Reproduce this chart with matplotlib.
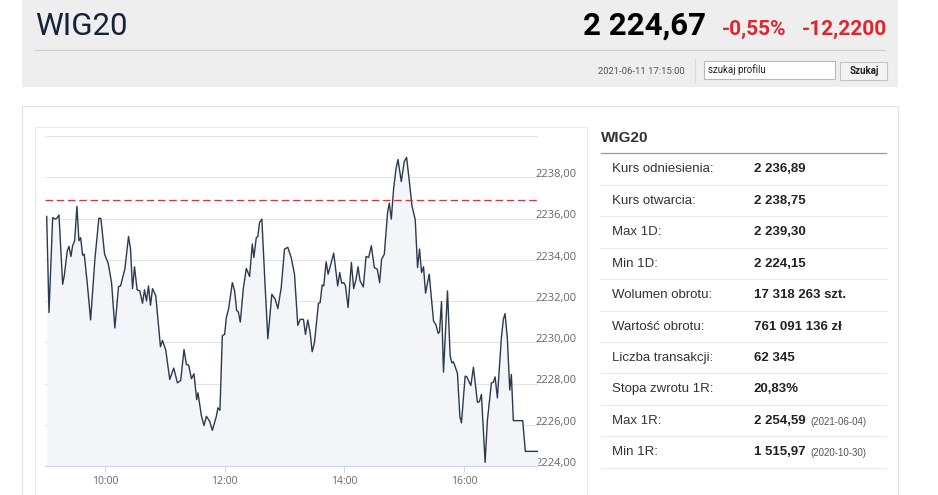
import matplotlib
matplotlib.use("Agg")
import matplotlib.pyplot as plt
from matplotlib.patches import Rectangle
from matplotlib.transforms import ScaledTranslation

# WIG20 intraday, minutes after 09:00
minutes = [1.7, 4.0, 7.7, 10.0, 11.7, 14.0, 17.7, 19.3, 22.3, 24.0, 26.0, 27.7, 29.7, 32.0,
           34.0, 35.7, 37.7, 39.3, 42.3, 45.7, 50.0, 54.0, 56.0, 59.7, 63.3, 66.7, 70.0,
           73.7, 75.7, 80.0, 83.7, 85.7, 87.7, 89.7, 92.3, 95.0, 97.7, 99.7, 101.7, 103.7,
           105.7, 107.7, 111.0, 115.7, 117.7, 121.0, 125.0, 129.0, 132.7, 136.0, 139.3,
           141.7, 144.0, 146.7, 149.3, 152.0, 153.3, 156.7, 159.3, 161.7, 165.0, 167.7,
           171.7, 173.3, 175.3, 177.7, 180.0, 181.7, 184.0, 187.7, 190.0, 192.0, 193.7,
           195.7, 198.7, 201.7, 205.0, 207.7, 209.3, 211.7, 213.3, 215.0, 217.3, 220.3,
           223.3, 227.3, 230.7, 233.3, 236.7, 240.0, 243.3, 246.7, 250.0, 253.3, 255.7,
           259.0, 261.0, 263.3, 265.7, 267.7, 270.0, 274.0, 275.7, 277.7, 279.3, 281.7,
           283.7, 285.7, 289.3, 293.3, 295.3, 297.3, 299.3, 301.0, 303.7, 307.0, 309.3,
           311.7, 313.7, 315.7, 319.0, 321.7, 324.3, 327.0, 330.0, 333.0, 335.3, 337.3,
           340.0, 343.3, 345.0, 347.0, 349.3, 351.7, 353.7, 357.0, 360.0, 362.3, 365.0,
           367.7, 371.0, 373.3, 375.3, 377.3, 379.3, 381.3, 385.0, 389.3, 391.7, 394.0,
           395.3, 397.3, 399.3, 403.3, 406.0, 407.7, 409.3, 413.3, 415.7, 417.3, 421.0,
           422.7, 426.7, 429.3, 433.3, 435.3, 437.3, 441.0, 443.3, 447.3, 449.3, 451.0,
           453.3, 457.3, 459.3, 461.0, 463.3, 465.7, 467.3, 469.3, 478.7, 481.3, 494.0]
wig20 = [2236.10, 2231.44, 2236.05, 2235.97, 2236.00, 2236.17, 2232.81, 2233.22, 2234.43,
         2234.65, 2234.16, 2234.68, 2234.92, 2236.59, 2234.92, 2235.07, 2234.22, 2234.27,
         2232.89, 2231.08, 2234.03, 2236.02, 2236.00, 2234.27, 2233.83, 2232.89, 2230.69,
         2232.70, 2232.73, 2233.54, 2235.13, 2234.52, 2232.60, 2233.66, 2232.54, 2232.49,
         2231.89, 2232.54, 2232.00, 2232.73, 2231.79, 2232.60, 2232.25, 2229.78, 2230.09,
         2229.62, 2228.20, 2228.75, 2228.03, 2228.15, 2229.65, 2228.92, 2228.89, 2228.23,
         2228.47, 2227.22, 2227.55, 2226.44, 2225.96, 2226.41, 2226.17, 2225.73, 2226.41,
         2226.82, 2226.70, 2230.33, 2230.38, 2231.19, 2231.63, 2232.89, 2232.49, 2231.55,
         2231.47, 2230.98, 2232.60, 2233.58, 2233.19, 2234.76, 2234.11, 2235.07, 2235.13,
         2235.81, 2235.97, 2232.98, 2230.17, 2232.33, 2232.08, 2231.63, 2232.65, 2234.52,
         2234.60, 2234.11, 2233.30, 2230.82, 2231.11, 2231.11, 2230.38, 2231.08, 2230.46,
         2229.54, 2229.98, 2231.89, 2231.92, 2232.78, 2232.73, 2233.90, 2233.30, 2233.67,
         2234.32, 2232.73, 2233.38, 2232.86, 2232.89, 2232.76, 2231.68, 2233.87, 2232.60,
         2233.06, 2233.66, 2232.98, 2232.68, 2234.16, 2234.11, 2234.68, 2233.62, 2233.54,
         2232.89, 2234.03, 2234.27, 2236.30, 2236.74, 2235.97, 2237.43, 2238.41, 2238.86,
         2237.79, 2238.76, 2238.97, 2237.84, 2236.62, 2235.94, 2233.62, 2234.52, 2233.38,
         2233.66, 2232.38, 2233.30, 2231.03, 2230.85, 2230.43, 2230.50, 2231.97, 2228.55,
         2232.49, 2229.33, 2229.00, 2229.05, 2228.49, 2226.41, 2226.09, 2228.36, 2228.32,
         2227.90, 2228.79, 2227.09, 2227.12, 2227.47, 2224.18, 2226.22, 2228.03, 2228.06,
         2228.32, 2227.30, 2230.22, 2231.11, 2231.39, 2230.17, 2227.68, 2228.44, 2226.20,
         2226.20, 2224.71, 2224.71]
ref_price = 2236.89

hour_ticks = [60, 180, 300, 420]
hour_labels = ["10:00", "12:00", "14:00", "16:00"]
price_ticks = [2224, 2226, 2228, 2230, 2232, 2234, 2236, 2238, 2240]
price_labels = ["2224,00", "2226,00", "2228,00", "2230,00", "2232,00", "2234,00",
                "2236,00", "2238,00", ""]

index_name = "WIG20"
last_price = "2 224,67"
change_pct = "-0,55%"
change_abs = "-12,2200"
timestamp = "2021-06-11 17:15:00"

stat_labels = ["Kurs odniesienia:", "Kurs otwarcia:", "Max 1D:", "Min 1D:",
               "Wolumen obrotu:", "Wartość obrotu:", "Liczba transakcji:",
               "Stopa zwrotu 1R:", "Max 1R:", "Min 1R:"]
stat_values = ["2 236,89", "2 238,75", "2 239,30", "2 224,15", "17 318 263 szt.",
               "761 091 136 zł", "62 345", "20,83%", "2 254,59", "1 515,97"]
stat_dates = ["", "", "", "", "", "", "", "", "(2021-06-04)", "(2020-10-30)"]

W, H = 938, 495
fig = plt.figure(figsize=(W / 100, H / 100), dpi=100)
fig.patch.set_facecolor("white")

# page layer in pixel coordinates
bg = fig.add_axes([0, 0, 1, 1])
bg.set_xlim(0, W)
bg.set_ylim(H, 0)
bg.axis("off")

narrow = ["Roboto", "DejaVu Sans"]
arial = ["Liberation Sans", "DejaVu Sans"]
bg.add_patch(Rectangle((22, -2), 876, 89, facecolor="#eeeeee", edgecolor="none"))
bg.plot([35, 885], [50, 50], color="#cfcfcf", lw=0.8)
bg.text(35, 35, index_name, fontsize=22.5, color="#15223b", family=narrow, va="baseline")
bg.text(706, 35, last_price, fontsize=22.5, fontweight="bold", color="black",
        family=narrow, ha="right", va="baseline")
bg.text(722, 35, change_pct, fontsize=15, fontweight="bold", color="#dd2630",
        family=narrow, va="baseline")
bg.text(887, 35, change_abs, fontsize=15, fontweight="bold", color="#dd2630",
        family=narrow, ha="right", va="baseline")
bg.text(685, 71, timestamp, fontsize=6.8, color="#555555", family=narrow,
        ha="right", va="center")
bg.plot([695, 695], [59, 82], color="#d8d8d8", lw=0.8)
bg.add_patch(Rectangle((704, 61), 131, 18, facecolor="white", edgecolor="#b8b8b8", lw=0.8))
bg.text(708, 70, "szukaj profilu", fontsize=7, color="#222222", family=narrow, va="center")
bg.add_patch(Rectangle((840, 62), 47, 18, facecolor="#f3f3f3", edgecolor="#c4c4c4", lw=0.8))
bg.text(864, 71, "Szukaj", fontsize=7, fontweight="bold", color="#222222",
        family=narrow, ha="center", va="center")

bg.add_patch(Rectangle((22, 106), 876, 400, facecolor="white", edgecolor="#e2e2e2", lw=0.8))
bg.add_patch(Rectangle((35, 127), 552, 380, facecolor="white", edgecolor="#ebebeb", lw=0.8))

# stats table
bg.text(601, 138, index_name, fontsize=11, fontweight="bold", color="#333333",
        family=arial, va="center")
bg.plot([601, 886], [153, 153], color="#9a9a9a", lw=0.9)
for i, (lab, val, dt) in enumerate(zip(stat_labels, stat_values, stat_dates)):
    yc = 169.5 + 31.4 * i
    bg.text(612, yc, lab, fontsize=9.5, color="#333333", family=arial, va="center")
    bg.text(754, yc, val, fontsize=9.5, fontweight="bold", color="#222222",
            family=arial, va="center")
    if dt:
        bg.text(810, yc + 1, dt, fontsize=7, color="#555555", family=arial, va="center")
    bg.plot([601, 886], [yc + 15.5, yc + 15.5], color="#e6e6e6", lw=0.8)

# price chart
ax = fig.add_axes([45 / W, 1 - 466 / H, (538 - 45) / W, (466 - 136) / H])
ax.patch.set_alpha(0)
ax.fill_between(minutes, wig20, price_ticks[0], color="#f3f5f8", lw=0)
ax.plot(minutes, wig20, color="#2b3a4f", lw=1.0)
ax.axhline(ref_price, color="#e0323d", lw=0.9, dashes=(6, 3))
ax.set_xlim(0, 494)
ax.set_ylim(price_ticks[0], price_ticks[-1])

ax.set_xticks(hour_ticks)
ax.set_xticklabels(hour_labels)
ax.tick_params(axis="x", length=4, color="#ccd6eb", labelcolor="#666666", pad=3,
               labelsize=7.5)
ax.set_yticks(price_ticks)
ax.set_yticklabels(price_labels)
ax.yaxis.tick_right()
ax.tick_params(axis="y", length=0, labelcolor="#666666", pad=-2, labelsize=8)
for lab in ax.get_xticklabels() + ax.get_yticklabels():
    lab.set_family(["Open Sans", "DejaVu Sans"])
for lab in ax.get_yticklabels():
    lab.set_transform(lab.get_transform() + ScaledTranslation(0, 3 / 72, fig.dpi_scale_trans))
ax.grid(axis="y", color="#e3e3e3", lw=0.8)
ax.set_axisbelow(True)
for side in ["top", "left", "right"]:
    ax.spines[side].set_visible(False)
ax.spines["bottom"].set_color("#ccd6eb")

fig.savefig("out.png", dpi=100, facecolor="white")
